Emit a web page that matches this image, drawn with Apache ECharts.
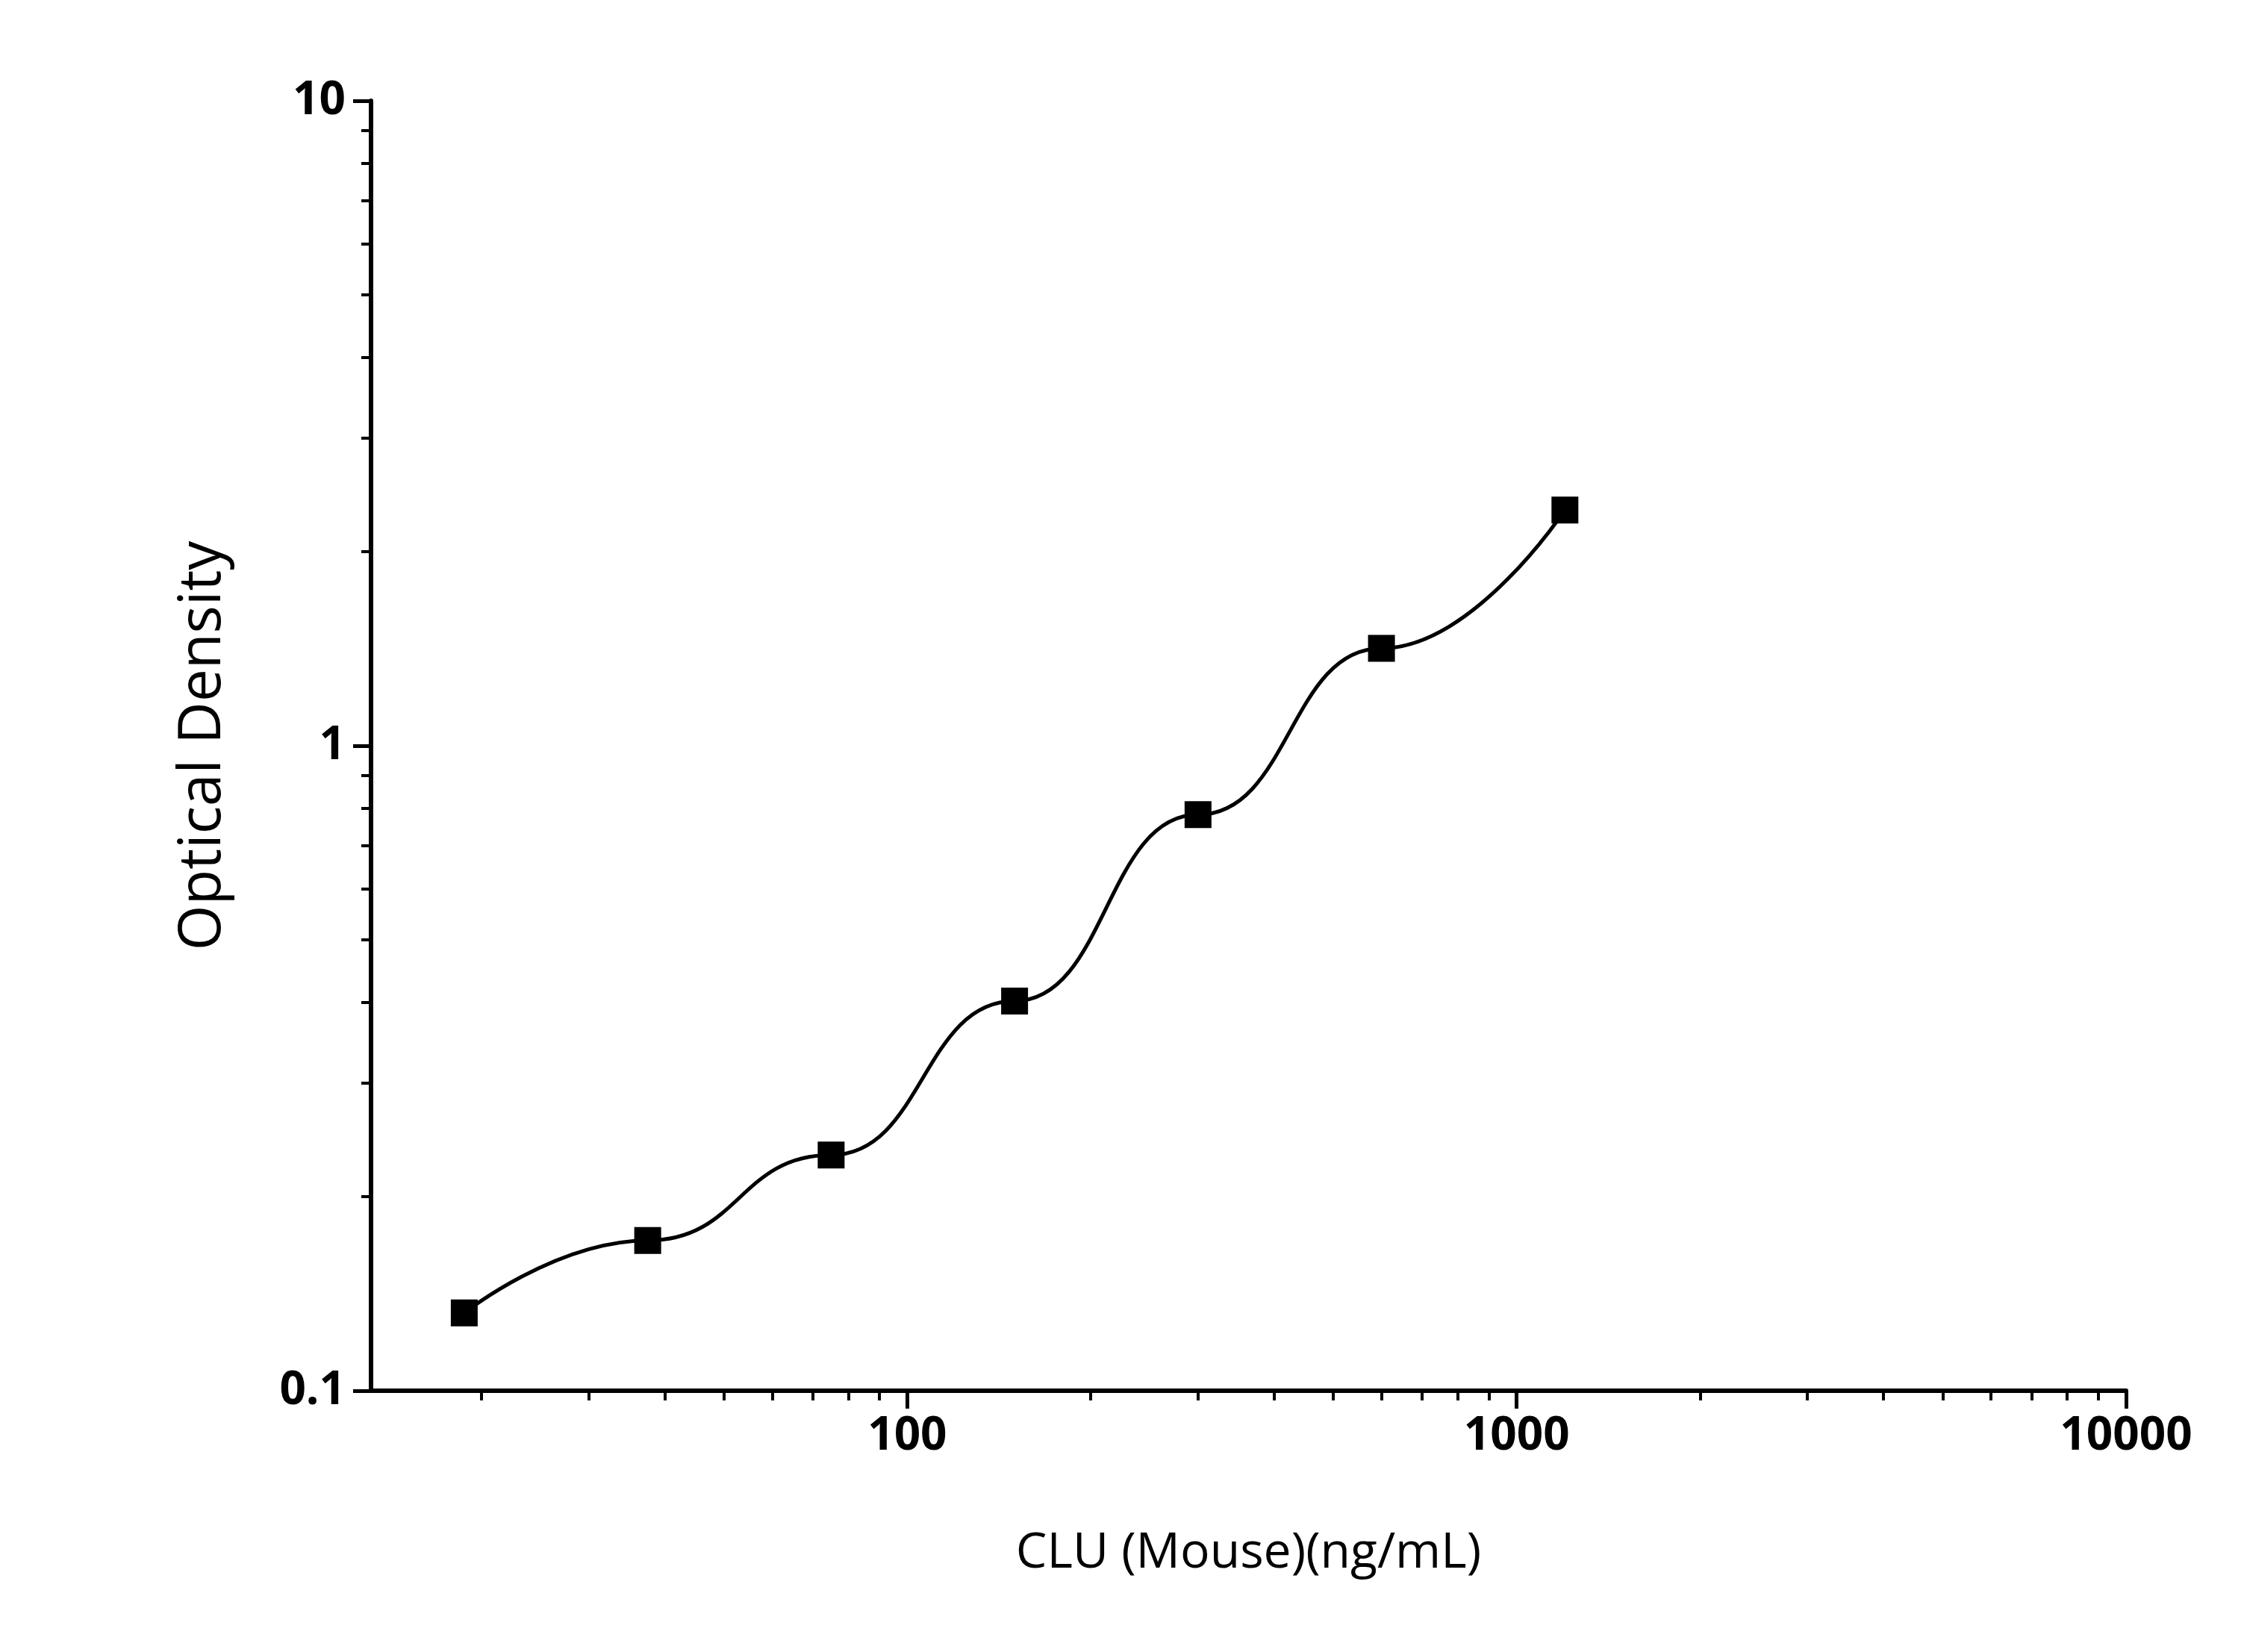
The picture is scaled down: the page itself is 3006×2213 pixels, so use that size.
<!DOCTYPE html>
<html>
<head>
<meta charset="utf-8">
<script src="https://cdn.jsdelivr.net/npm/echarts@6/dist/echarts.min.js"></script>
<style>html,body{margin:0;background:#fff}#chart{width:3006px;height:2213px}</style>
</head>
<body>
<div id="chart"></div>
<script>
// concentration (ng/mL) and optical density
var concentrations = [18.75, 37.5, 75, 150, 300, 600, 1200];
var densities = [0.132, 0.171, 0.232, 0.402, 0.782, 1.416, 2.32];
var xMajorTicks = [100, 1000, 10000];
var yMajorTicks = [0.1, 1, 10];

var lg = Math.log10;
function minors(from, to) {
    var out = [];
    for (var d = from; d < to; d *= 10) {
        for (var k = 2; k <= 9; k++) out.push(lg(k * d));
    }
    return out;
}
var xMin = 1.12, xMax = 4;
var pts = concentrations.map(function (c, i) { return [lg(c), lg(densities[i])]; });

var labelFont = { fontFamily: 'Open Sans', fontWeight: 'bold', fontSize: 62, color: '#000' };
var lineStyle = { color: '#000', width: 6 };

var myChart = echarts.init(document.getElementById('chart'));
myChart.setOption({
    backgroundColor: '#fff',
    animation: false,
    grid: { left: 497, right: 158, top: 135, bottom: 350 },
    xAxis: [{
        type: 'value', min: xMin, max: xMax,
        name: 'CLU (Mouse)(ng/mL)', nameLocation: 'middle', nameGap: 185,
        nameTextStyle: { fontFamily: 'Open Sans', fontSize: 66, color: '#000' },
        axisLine: { onZero: false, lineStyle: lineStyle },
        axisTick: { length: 24, lineStyle: { color: '#000', width: 5 }, customValues: xMajorTicks.map(lg) },
        axisLabel: Object.assign({ margin: 30, customValues: xMajorTicks.map(lg),
            formatter: function (v) { return String(Math.round(Math.pow(10, v))); } }, labelFont),
        splitLine: { show: false }
    }, {
        type: 'value', min: xMin, max: xMax, position: 'bottom',
        axisLine: { show: false, onZero: false },
        axisTick: { length: 13, lineStyle: { color: '#000', width: 4 }, customValues: minors(10, 10000).filter(function (v) { return v > xMin; }) },
        axisLabel: { show: false, customValues: [] },
        splitLine: { show: false }
    }],
    yAxis: [{
        type: 'value', min: -1, max: 1,
        name: 'Optical Density', nameLocation: 'middle', nameGap: 185,
        nameTextStyle: { fontFamily: 'Open Sans', fontSize: 78, color: '#000' },
        axisLine: { show: true, onZero: false, lineStyle: lineStyle },
        axisTick: { show: true, length: 24, lineStyle: { color: '#000', width: 5 }, customValues: yMajorTicks.map(lg) },
        axisLabel: Object.assign({ margin: 34, customValues: yMajorTicks.map(lg),
            formatter: function (v) { return String(yMajorTicks[Math.round(v) + 1]); } }, labelFont),
        splitLine: { show: false }
    }, {
        type: 'value', min: -1, max: 1, position: 'left',
        axisLine: { show: false, onZero: false },
        axisTick: { show: true, length: 13, lineStyle: { color: '#000', width: 4 }, customValues: minors(0.1, 10) },
        axisLabel: { show: false, customValues: [] },
        splitLine: { show: false }
    }],
    series: [{
        type: 'line', data: pts, smooth: 0.5, smoothMonotone: 'x',
        symbol: 'rect', symbolSize: 36,
        lineStyle: { color: '#000', width: 5 },
        itemStyle: { color: '#000' }
    }]
});
</script>
</body>
</html>
